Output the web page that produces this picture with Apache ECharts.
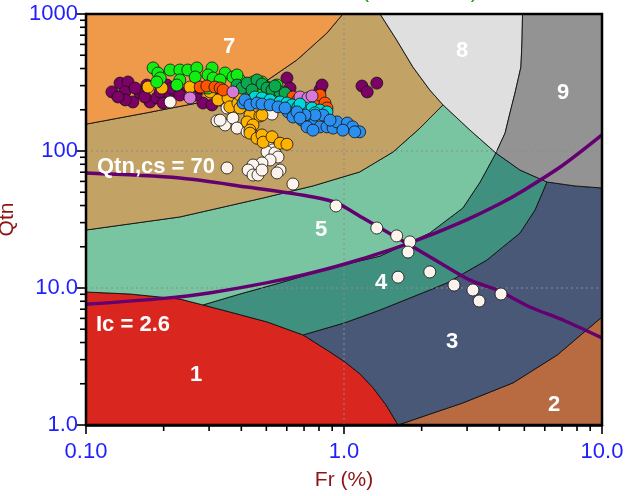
<!DOCTYPE html>
<html><head><meta charset="utf-8">
<script src="https://cdn.jsdelivr.net/npm/echarts@6/dist/echarts.min.js"></script>
<style>html,body{margin:0;padding:0;background:#fff}#c{width:626px;height:496px}</style>
</head><body><div id="c"></div>
<script>
// ---- axis ticks / labels ----
const frLabels = ['0.10', '1.0', '10.0'];
const qtnLabels = ['1.0', '10.0', '100', '1000'];
const frMinorTicks = [0.2,0.3,0.4,0.5,0.6,0.7,0.8,0.9,2,3,4,5,6,7,8,9];
const qtnMinorTicks = [2,3,4,5,6,7,8,9,20,30,40,50,60,70,80,90,200,300,400,500,600,700,800,900];

// ---- zone boundaries [Fr, Qtn] ----
const bZone1 = [[0.1,9.35],[0.148,9.04],[0.231,8.31],[0.284,7.52],[0.361,6.68],[0.504,5.65],[0.694,4.54],[0.883,3.41],[1.01,2.88],[1.153,2.36],[1.29,1.89],[1.455,1.40],[1.62,1.0]];
const bZone2 = [[1.62,1.0],[2.15,1.20],[2.89,1.45],[4.52,2.03],[6.70,3.24],[8.44,4.69],[10,6.14]];
const bZone34 = [[0.694,4.54],[1.0,5.55],[1.38,6.91],[2.15,9.67],[2.51,10.9],[3.58,16.0],[4.81,25.2],[5.50,37.1],[6.12,59.4]];
const bZone45 = [[0.284,7.52],[0.395,9.04],[0.565,10.9],[0.883,14.0],[1.38,17.1],[2.15,25.2],[2.89,38.4],[3.37,59.4],[3.88,96.7]];
const bZone56 = [[0.1,26.5],[0.231,33.0],[0.486,45.4],[0.758,55.6],[1.15,70.3],[1.55,98.4],[1.97,147],[2.42,217]];
const bZone68 = [[2.42,217],[2.15,279],[1.85,410],[1.60,646],[1.38,1000]];
const bZone85 = [[2.42,217],[3.08,142],[3.88,96.7]];
const bZone89 = [[4.92,1000],[4.90,646],[4.85,410],[4.60,265],[4.40,190],[4.21,135],[3.88,96.7]];
const bZone9low = [[3.88,96.7],[4.81,72.6],[6.12,59.4],[7.86,55.6],[10,53.7]];
const bZone7 = [[0.1,157],[0.172,190],[0.311,236],[0.486,313],[0.657,462],[0.859,727],[0.99,1000]];
const zoneColors = ['#d9261e','#b86a40','#4a5878','#40907f','#7ac5a1','#c2a265','#ef9a4b','#dfdfdf','#939393'];
const zoneNames = ['1','2','3','4','5','6','7','8','9'];

// ---- reference curves ----
const ic26 = [[0.1,7.6],[0.2,8.4],[0.3,9.2],[0.5,10.9],[0.7,12.5],[1,14.9],[1.5,18.9],[2,23],[3,31.6],[4,41],[5,52],[7,78],[10,131]];
const qtncs70 = [[0.1,69],[0.231,63.5],[0.42,54.6],[0.76,46.2],[0.94,41.7],[1.185,32.4],[1.47,25.6],[1.8,20.6],[2.36,15.2],[3.08,11.4],[3.92,9.67],[5.26,7.27],[7.06,5.84],[10,4.32]];

// ---- CPT data [Fr, Qtn] ----
const purplePts = [[0.126,270],[0.1355,313],[0.1455,319],[0.1416,270],[0.152,228],[0.142,236],[0.162,265],[0.172,303],[0.177,228],[0.188,244],[0.194,270],[0.212,248],[0.206,303],[0.215,288],[0.246,270],[0.284,224],[0.308,217],[0.331,236],[0.155,288],[0.133,248],[0.169,248],[0.199,224],[0.231,256],[0.267,256],[0.601,341],[0.618,288],[0.807,279],[0.822,303],[1.174,298],[1.23,270],[1.34,313],[0.277,288],[0.316,270],[0.368,248]];
const whitePts = [[0.212,228],[0.253,248],[0.322,166],[0.346,155],[0.371,174],[0.385,147],[0.331,168],[0.352,206],[0.421,138],[0.46,127],[0.486,118],[0.508,111],[0.526,186],[0.531,102],[0.503,98.4],[0.54,96.8],[0.555,90.4],[0.517,86],[0.481,81.8],[0.444,79],[0.425,72.6],[0.444,66.8],[0.464,66.8],[0.481,72.6],[0.565,72.6],[0.55,69.2],[0.352,75.2],[0.634,57.4],[0.931,39.7],[1.34,27.4],[1.6,24.0],[1.80,21.7],[1.77,18.3],[1.62,12.0],[2.15,13.1],[2.67,10.5],[3.16,9.67],[3.34,8.04],[4.06,9.04]];
const yellowPts = [[0.174,293],[0.197,288],[0.253,293],[0.289,288],[0.303,270],[0.325,236],[0.355,244],[0.361,210],[0.388,224],[0.395,256],[0.395,206],[0.432,183],[0.472,180],[0.481,183],[0.421,163],[0.444,155],[0.432,142],[0.432,135],[0.46,124],[0.481,131],[0.486,116],[0.526,127],[0.565,114],[0.601,112],[0.464,244]];
const greenPts = [[0.182,404],[0.190,371],[0.194,341],[0.212,390],[0.231,390],[0.231,330],[0.248,390],[0.269,404],[0.308,404],[0.297,359],[0.311,341],[0.297,288],[0.265,347],[0.225,303],[0.188,319],[0.346,371],[0.371,347],[0.395,330],[0.444,319],[0.421,303],[0.481,319],[0.503,293],[0.55,303],[0.385,359],[0.331,330],[0.464,279]];
const darkGreenPts = [[0.385,303],[0.402,288],[0.421,313],[0.46,330],[0.481,308],[0.503,288],[0.526,279],[0.565,270],[0.591,265],[0.54,298],[0.44,279]];
const orangeRedPts = [[0.277,293],[0.294,298],[0.316,293],[0.331,288],[0.34,279],[0.634,248],[0.663,236],[0.793,236],[0.807,256],[0.844,224],[0.859,206]];
const violetPts = [[0.253,244],[0.371,270],[0.675,248],[0.725,244],[0.752,252]];
const cyanPts = [[0.452,248],[0.481,244],[0.517,236],[0.565,228],[0.601,224],[0.629,217],[0.663,210],[0.706,206],[0.752,206],[0.807,199],[0.859,193],[0.675,220],[0.772,190]];
const bluePts = [[0.406,224],[0.413,236],[0.432,217],[0.46,224],[0.481,220],[0.517,217],[0.555,210],[0.607,193],[0.634,177],[0.687,168],[0.738,163],[0.758,155],[0.807,150],[0.859,150],[0.907,147],[0.94,163],[1.03,160],[1.08,150],[1.15,138],[1.10,138],[0.829,183],[0.772,183],[0.706,183],[0.657,193],[0.719,150],[0.758,142],[0.99,142],[0.591,206],[0.675,174],[0.883,168]];

// ---- build zone polygons from the boundaries ----
const rev = a => a.slice().reverse();
const J1 = 3, J2 = 6; // junction indices on the zone-1 boundary
const zonePolys = [
  [[0.1,1]].concat(bZone1),
  bZone2.concat([[10,1]]),
  bZone1.slice(J2).concat(bZone2.slice(1), rev(bZone9low.slice(2)), rev(bZone34).slice(1)),
  bZone1.slice(J1,J2+1).concat(bZone34.slice(1), rev(bZone9low.slice(0,3)).slice(1), rev(bZone45).slice(1)),
  bZone1.slice(0,J1+1).concat(bZone45.slice(1), rev(bZone85).slice(1), rev(bZone56).slice(1)),
  bZone7.concat(rev(bZone68), rev(bZone56).slice(1)),
  [[0.1,1000]].concat(rev(bZone7)),
  bZone89.concat(rev(bZone85).slice(1), bZone68.slice(1)),
  [[10,1000]].concat(rev(bZone9low), rev(bZone89).slice(1))
];

const chart = echarts.init(document.getElementById('c'), null, {renderer:'canvas'});
const GL = 86, GT = 14, GW = 516, GH = 411;
const tickFont = 'Liberation Sans, Arial, sans-serif';
const nameColor = '#8b1414';
const labelColor = '#1f1fff';

function scatter(name, data, color, z) {
  return {type:'scatter', name, data, symbol:'circle', symbolSize:12, z,
    itemStyle:{color, borderColor:'#111', borderWidth:0.8, opacity:1},
    emphasis:{disabled:true}, silent:true};
}

const zoneLabelPos = [[196,375],[554,405],[452,342],[381,283],[321,230],null,[229,47],[462,51],[563,93]];
const graphics = [];
zoneLabelPos.forEach((p,i)=>{ if(p) graphics.push({type:'text', x:p[0], y:p[1], z:100,
  style:{text:zoneNames[i], fill:'#fff', font:'bold 22px Liberation Sans, Arial, sans-serif', align:'center', verticalAlign:'middle'}}); });
graphics.push({type:'text', x:97, y:167, z:100, style:{text:'Qtn,cs = 70', fill:'#fff', font:'bold 22px Liberation Sans, Arial, sans-serif', align:'left', verticalAlign:'middle'}});
graphics.push({type:'text', x:96, y:325, z:100, style:{text:'Ic = 2.6', fill:'#fff', font:'bold 22px Liberation Sans, Arial, sans-serif', align:'left', verticalAlign:'middle'}});
graphics.push({type:'text', x:478, y:2, z:100, style:{text:'SBTn Chart (Robertson)', fill:'#1a9a1a', font:'22px Liberation Sans, Arial, sans-serif', align:'right', verticalAlign:'bottom'}});
graphics.push({type:'rect', z:100, shape:{x:GL, y:GT, width:GW, height:GH}, style:{fill:'none', stroke:'#000', lineWidth:2.5}});

const option = {
  animation:false,
  backgroundColor:'#fff',
  grid:{left:GL, top:GT, width:GW, height:GH, containLabel:false, outerBoundsMode:'none'},
  xAxis:{type:'log', logBase:10, min:0.1, max:10,
    name:'Fr (%)', nameLocation:'middle', nameGap:45,
    nameTextStyle:{color:nameColor, fontSize:21, fontFamily:tickFont},
    axisLine:{show:true, onZero:false, lineStyle:{color:'#000', width:2.5}},
    axisTick:{show:true, inside:false, length:9, lineStyle:{color:'#000', width:1.6}},
    axisLabel:{color:labelColor, fontSize:22, fontFamily:tickFont, margin:16,
      formatter:v=>frLabels[Math.round(Math.log10(v))+1]},
    splitLine:{show:false}},
  yAxis:{type:'log', logBase:10, min:1, max:1000,
    name:'Qtn', nameLocation:'middle', nameGap:47, nameRotate:90,
    nameTextStyle:{color:nameColor, fontSize:21, fontFamily:tickFont},
    axisLine:{show:true, onZero:false, lineStyle:{color:'#000', width:2.5}},
    axisTick:{show:true, inside:false, length:9, lineStyle:{color:'#000', width:1.6}},
    axisLabel:{color:labelColor, fontSize:22, fontFamily:tickFont, margin:8,
      formatter:v=>qtnLabels[Math.round(Math.log10(v))]},
    splitLine:{show:false}},
  graphic:graphics,
  series:[
    {type:'custom', z:1, silent:true, clip:true,
      data:zonePolys.map((p,i)=>({value:[1,1,i]})),
      renderItem:(params, api)=>{
        const i = api.value(2);
        const pts = zonePolys[i].map(d=>api.coord(d));
        return {type:'polygon', shape:{points:pts}, style:{fill:zoneColors[i], stroke:'#111', lineWidth:0.9}};
      }},
    {type:'line', data:ic26, smooth:0.3, showSymbol:false, z:4, silent:true,
      lineStyle:{color:'#650070', width:3.5}},
    {type:'line', data:qtncs70, smooth:0.3, showSymbol:false, z:4, silent:true,
      lineStyle:{color:'#650070', width:3.5}},
    scatter('purple', purplePts, '#7c0066', 5),
    scatter('white', whitePts, '#fbf3ec', 6),
    scatter('yellow', yellowPts, '#ffb300', 7),
    scatter('green', greenPts, '#12ee12', 8),
    scatter('darkgreen', darkGreenPts, '#0ba84f', 9),
    scatter('orangered', orangeRedPts, '#ff5500', 10),
    scatter('violet', violetPts, '#d57ad8', 11),
    scatter('cyan', cyanPts, '#00d8d8', 12),
    scatter('blue', bluePts, '#2b8ff0', 13)
  ]
};
chart.setOption(option);

// minor log ticks and decade grid lines, placed through the chart's own axis scales
const extraEls = [];
frMinorTicks.forEach(v=>{
  const p = chart.convertToPixel({gridIndex:0}, [v, 1]);
  extraEls.push({type:'line', z:100, shape:{x1:p[0], y1:p[1], x2:p[0], y2:p[1]+6}, style:{stroke:'#000', lineWidth:1.6}});
});
qtnMinorTicks.forEach(v=>{
  const p = chart.convertToPixel({gridIndex:0}, [0.1, v]);
  extraEls.push({type:'line', z:100, shape:{x1:p[0], y1:p[1], x2:p[0]-6, y2:p[1]}, style:{stroke:'#000', lineWidth:1.6}});
});
[1].forEach(v=>{
  const a = chart.convertToPixel({gridIndex:0}, [v, 1]);
  const b = chart.convertToPixel({gridIndex:0}, [v, 1000]);
  extraEls.push({type:'line', z:3, shape:{x1:a[0], y1:a[1], x2:b[0], y2:b[1]}, style:{stroke:'#8c8c8c', lineWidth:1, lineDash:[2,3]}});
});
[10, 100].forEach(v=>{
  const a = chart.convertToPixel({gridIndex:0}, [0.1, v]);
  const b = chart.convertToPixel({gridIndex:0}, [10, v]);
  extraEls.push({type:'line', z:3, shape:{x1:a[0], y1:a[1], x2:b[0], y2:b[1]}, style:{stroke:'#8c8c8c', lineWidth:1, lineDash:[2,3]}});
});
chart.setOption({graphic:graphics.concat(extraEls)});
</script></body></html>
